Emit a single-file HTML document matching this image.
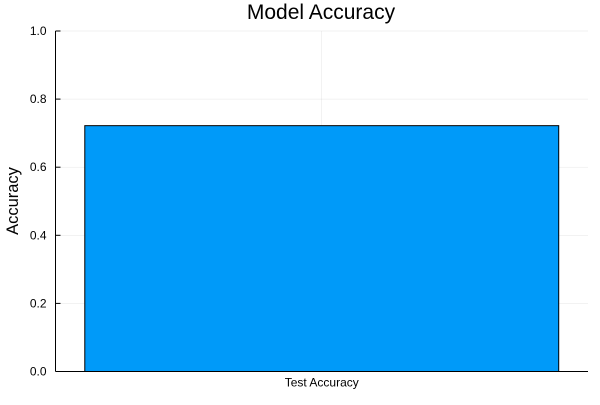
<!DOCTYPE html>
<html><head><meta charset="utf-8"><style>
body{margin:0;background:#fff;width:600px;height:400px;overflow:hidden}
svg{font-family:"Liberation Sans","DejaVu Sans",sans-serif}
</style></head><body>
<svg id="chart" width="600" height="400">
<text x="321" y="19" font-size="21" text-anchor="middle" fill="#000">Model Accuracy</text>
<text x="0" y="0" font-size="16.5" text-anchor="middle" transform="translate(18,201) rotate(-90)">Accuracy</text>
<g id="grid"></g><g id="bars"></g><g id="axes"></g>
</svg>
<script>
const categories = ["Test Accuracy"];
const values = [0.722];
const yTicks = [0, 0.2, 0.4, 0.6, 0.8, 1.0];
const tickLabels = ["0.0","0.2","0.4","0.6","0.8","1.0"];
const L=55.5,R=588,T=31,B=371.5;
const y=v=>B-(B-T)*v;
const xc=i=>L+(R-L)*(i+0.5)/categories.length;
const ns="http://www.w3.org/2000/svg";
function mk(tag,attrs,parent){const e=document.createElementNS(ns,tag);for(const k in attrs)e.setAttribute(k,attrs[k]);document.getElementById(parent).appendChild(e);return e;}
yTicks.forEach((t,i)=>{
  const g=mk("line",{x1:L,x2:R,y1:y(t),y2:y(t),stroke:"#000","stroke-opacity":0.1,"stroke-width":0.5},"grid");
  
  
  const tk=mk("line",{x1:L,x2:L+5,y1:y(t),y2:y(t),stroke:"#000","stroke-width":1},"axes");
  
  
  const tl=mk("text",{x:L-9,y:y(t)+4,"font-size":12,"text-anchor":"end"},"axes");
  tl.textContent=tickLabels[i];
  
  
});
const bw=(R-L)/categories.length*0.89;
categories.forEach((c,i)=>{
  const gv=mk("line",{x1:xc(i),x2:xc(i),y1:T,y2:B,stroke:"#000","stroke-opacity":0.1,"stroke-width":0.5},"grid");
  
  
  const r=mk("rect",{x:xc(i)-bw/2,y:y(values[i]),width:bw,height:B-y(values[i]),fill:"#009af9",stroke:"#000","stroke-width":1},"bars");
  
  
  const tl=mk("text",{x:xc(i),y:B+15,"font-size":12,"text-anchor":"middle"},"axes");
  tl.textContent=c;
  
  
});
const ya=mk("line",{x1:L,x2:L,y1:T,y2:B,stroke:"#000","stroke-width":1},"axes");


const xa=mk("line",{x1:L,x2:R,y1:B,y2:B,stroke:"#000","stroke-width":1},"axes");


</script>
</body></html>
